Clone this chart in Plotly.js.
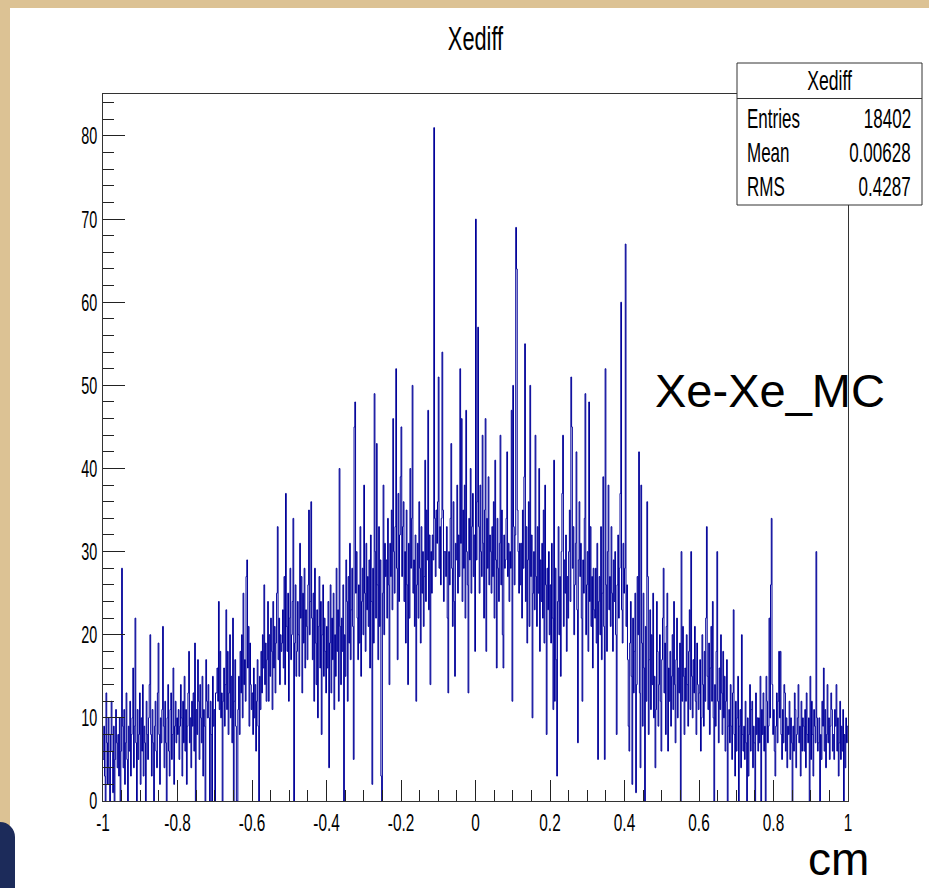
<!DOCTYPE html>
<html><head><meta charset="utf-8">
<script src="https://cdn.plot.ly/plotly-3.0.1.min.js"></script>
<style>
html,body{margin:0;padding:0;width:929px;height:888px;overflow:hidden;background:#dcc294;}
#chart{position:absolute;left:10px;top:8px;width:919px;height:880px;background:#fff;}
#corner{position:absolute;left:0;top:822px;width:15px;height:66px;background:#1c2b5a;border-radius:0 15px 0 0;}
</style></head><body>
<div id="chart"></div><div id="corner"></div>
<script>
// ---- data (1000 bins on [-1, 1]) ----
const histTitle = "Xediff";
const xMin = -1, xMax = 1, nBins = 1000;
const counts = [
5,9,3,0,13,7,2,10,4,0,8,12,6,1,9,0,5,11,7,4,
8,3,10,0,6,28,9,4,11,2,7,13,5,0,9,6,12,3,8,10,
16,4,9,22,7,0,11,5,8,13,2,10,6,14,3,9,7,0,12,8,
5,10,14,20,8,3,11,7,0,9,12,6,4,13,19,8,2,10,7,11,
21,9,4,12,7,0,10,14,6,3,11,13,5,8,16,2,9,12,7,10,
8,11,5,9,14,10,3,12,7,15,6,11,2,9,13,18,7,10,4,12,
9,13,6,19,0,11,8,17,12,5,14,10,7,15,3,11,9,0,17,12,
10,14,10,0,12,8,0,15,9,11,0,13,13,16,12,24,11,18,10,13,
0,12,16,9,14,23,11,18,8,13,20,10,15,7,22,0,12,17,9,0,
0,11,15,8,18,13,20,10,25,14,17,12,27,29,16,21,9,19,14,11,
13,8,16,10,14,6,12,17,9,0,15,11,18,13,20,16,26,14,19,12,
17,24,12,20,15,22,18,11,24,16,21,13,19,25,33,17,22,14,20,18,
19,23,16,27,14,37,21,18,25,12,22,28,17,20,24,34,0,19,26,15,
18,24,20,15,31,22,27,13,25,19,28,16,23,21,17,26,35,20,24,36,
22,17,25,12,28,19,14,23,10,21,27,16,24,8,20,26,15,22,18,13,
21,16,24,4,19,26,13,22,17,25,11,20,15,28,18,23,12,40,21,14,
22,18,26,0,20,15,29,24,12,27,19,31,17,23,28,21,5,45,48,25,
30,22,17,26,19,33,15,24,28,20,38,25,18,31,23,27,21,29,16,32,
24,2,28,19,49,30,22,43,26,17,33,21,29,3,0,25,38,20,31,27,
29,22,34,26,14,31,27,35,23,46,30,25,33,52,28,17,37,24,32,39,
45,27,33,36,24,30,19,35,26,14,31,22,40,28,34,50,25,29,21,32,
12,26,31,22,36,28,19,33,25,30,21,27,41,24,35,29,47,23,32,14,
30,25,32,29,81,34,27,35,31,36,51,28,33,26,34,54,35,24,30,30,
27,33,22,13,30,26,34,43,28,21,36,24,15,31,29,38,25,32,27,52,
31,46,24,35,28,38,22,47,30,26,13,34,29,40,25,33,37,27,32,18,
70,29,36,57,33,25,38,30,27,44,31,22,35,46,18,34,28,39,26,32,
30,25,33,27,36,22,41,29,16,34,28,24,31,44,26,35,20,16,32,28,
29,34,42,27,31,24,30,28,47,12,50,33,26,32,69,64,35,30,25,31,
26,31,22,35,28,39,55,24,33,19,29,36,21,50,27,32,10,25,30,23,
44,27,21,33,25,40,18,29,24,31,22,35,19,38,26,8,28,23,30,20,
26,19,31,22,11,41,12,28,17,3,24,33,20,27,15,30,37,44,21,29,
25,32,18,27,22,30,35,24,51,45,28,33,20,26,31,42,23,7,29,36,
27,31,22,12,29,25,34,49,20,26,30,18,48,24,33,21,27,16,28,23,
22,28,19,31,5,24,27,20,33,17,25,39,21,5,52,26,18,30,38,23,
27,21,33,25,18,29,24,30,20,8,26,32,22,28,37,60,23,19,31,25,
28,67,21,26,17,9,6,19,24,15,2,22,13,18,25,1,14,27,20,42,
13,4,38,19,9,25,16,0,21,12,36,27,8,17,23,11,20,14,25,10,
15,4,11,24,18,9,14,20,12,6,17,22,28,13,19,8,21,25,6,16,
12,18,9,15,20,11,24,14,7,17,22,10,16,13,19,0,30,12,21,15,
8,16,12,20,14,9,18,23,11,30,15,10,17,13,21,12,8,19,14,11,
13,17,6,10,20,14,9,18,12,22,33,15,11,19,8,16,21,12,24,10,
0,14,9,18,30,12,7,16,11,20,13,8,18,10,15,6,12,17,0,9,
11,7,14,9,5,13,23,8,3,12,6,10,15,0,9,11,4,20,8,6,
9,5,12,7,0,10,3,8,14,6,11,12,4,9,7,0,13,8,10,6,
10,7,15,0,11,8,13,6,9,0,15,12,7,9,22,10,26,34,14,8,
11,6,3,9,13,7,12,18,10,18,8,5,11,7,14,13,6,10,4,9,
8,12,5,10,7,0,9,6,13,11,4,8,10,14,7,9,3,12,6,10,
9,6,11,4,13,8,7,10,0,15,5,12,8,3,11,9,7,30,10,6,
7,10,0,8,5,12,9,16,6,11,4,8,14,7,10,5,9,13,11,6,
8,5,11,9,14,6,10,3,7,12,5,9,6,11,0,8,4,10,7,9
];
const xTickVals = [-1,-0.8,-0.6,-0.4,-0.2,0,0.2,0.4,0.6,0.8,1];
const xTickText = ["-1","-0.8","-0.6","-0.4","-0.2","0","0.2","0.4","0.6","0.8","1"];
const statLabels = ["Entries","Mean","RMS"];
const statValues = ["18402","0.00628","0.4287"];
const sampleLabel = "Xe-Xe_MC";
const unitLabel = "cm";
const yMax = 85.05;

// ---- geometry (page pixels of the frame) ----
const PL = 103, PR = 848, PT = 94, PB = 801;
const fx = p => (p - PL) / (PR - PL);
const fy = p => (PB - p) / (PB - PT);

// histogram outline as steps
const binW = (xMax - xMin) / nBins;
const xs = [], ys = [];
counts.forEach((c, i) => { xs.push(xMin + i * binW); ys.push(c); });
xs.push(xMax); ys.push(counts[counts.length - 1]);

const FONT = "Liberation Sans, Arial, Helvetica, sans-serif";
const lineCol = "#333";

const trace = {
  type: "scatter", mode: "lines", x: xs, y: ys,
  line: {shape: "hv", color: "#000099", width: 1},
  hoverinfo: "skip", showlegend: false
};

const ann = [];
ann.push({xref:"paper", yref:"paper", x: fx(829), y: fy(81), text: histTitle, showarrow:false,
  xanchor:"center", yanchor:"middle", font:{size:28, family:FONT, color:"#000"}});
statLabels.forEach((lab, i) => {
  const cy = 118.5 + i * 34.5;
  ann.push({xref:"paper", yref:"paper", x: fx(745), y: fy(cy), text: lab, showarrow:false,
    xanchor:"left", yanchor:"middle", align:"left", font:{size:27, family:FONT, color:"#000"}});
  ann.push({xref:"paper", yref:"paper", x: fx(913), y: fy(cy), text: statValues[i], showarrow:false,
    xanchor:"right", yanchor:"middle", align:"right", font:{size:27, family:FONT, color:"#000"}});
});
const nRootAnn = ann.length;
ann.push({xref:"paper", yref:"paper", x: fx(653), y: fy(390), text: sampleLabel, showarrow:false,
  xanchor:"left", yanchor:"middle", align:"left", font:{size:47, family:FONT, color:"#000"}});
ann.push({xref:"paper", yref:"paper", x: fx(806), y: fy(887), text: unitLabel, showarrow:false,
  xanchor:"left", yanchor:"bottom", align:"left", font:{size:46, family:FONT, color:"#000"}});

const shapes = [
  {type:"rect", xref:"paper", yref:"paper", x0: fx(737), x1: fx(922), y0: fy(205), y1: fy(63),
   fillcolor:"#fff", line:{color:lineCol, width:1}, layer:"above"},
  {type:"line", xref:"paper", yref:"paper", x0: fx(737), x1: fx(922), y0: fy(98.5), y1: fy(98.5),
   line:{color:lineCol, width:1}, layer:"above"}
];

const layout = {
  width: 919, height: 880,
  margin: {l: PL - 10, r: 929 - PR, t: PT - 8, b: 888 - PB, pad: 0},
  paper_bgcolor: "#fff", plot_bgcolor: "#fff",
  showlegend: false,
  font: {family: FONT, color: "#000"},
  title: {text: histTitle, font: {size: 33, family: FONT, color: "#000"},
          xref: "paper", x: 0.5, xanchor: "center", yref: "container", y: 1 - 30.5/880, yanchor: "middle"},
  xaxis: {range: [xMin, xMax], tickmode: "array", tickvals: xTickVals, ticktext: xTickText,
    ticks: "inside", ticklen: 21, tickwidth: 1, tickcolor: "#222",
    showline: true, linecolor: lineCol, linewidth: 1, mirror: true,
    showgrid: false, zeroline: false, tickfont: {size: 24, family: FONT, color: "#000"},
    minor: {tickmode: "linear", tick0: -1, dtick: 0.05, ticks: "inside", ticklen: 11,
            tickwidth: 1, tickcolor: "#222", showgrid: false}},
  yaxis: {range: [0, yMax], tickmode: "linear", tick0: 0, dtick: 10,
    ticks: "inside", ticklen: 22, tickwidth: 1, tickcolor: "#222",
    showline: true, linecolor: lineCol, linewidth: 1, mirror: true,
    showgrid: false, zeroline: false, tickfont: {size: 24, family: FONT, color: "#000"},
    minor: {tickmode: "linear", tick0: 0, dtick: 2, ticks: "inside", ticklen: 11,
            tickwidth: 1, tickcolor: "#222", showgrid: false}},
  shapes: shapes,
  annotations: ann
};

function squeeze(el, s) {
  const x = parseFloat(el.getAttribute("x")) || 0;
  const t = el.getAttribute("transform") || "";
  el.setAttribute("transform", t + " translate(" + x + ",0) scale(" + s + ",1) translate(" + (-x) + ",0)");
}

Plotly.newPlot("chart", [trace], layout, {staticPlot: true, displayModeBar: false}).then(gd => {
  gd.querySelectorAll(".xtick text").forEach(el => squeeze(el, 0.64));
  gd.querySelectorAll(".ytick text").forEach(el => squeeze(el, 0.6));
  gd.querySelectorAll(".gtitle").forEach(el => squeeze(el, 0.66));
  gd.querySelectorAll(".annotation").forEach(g => {
    const idx = parseInt(g.getAttribute("data-index"), 10);
    if (idx < nRootAnn) g.querySelectorAll("text").forEach(el => squeeze(el, 0.63));
  });
});
</script></body></html>
